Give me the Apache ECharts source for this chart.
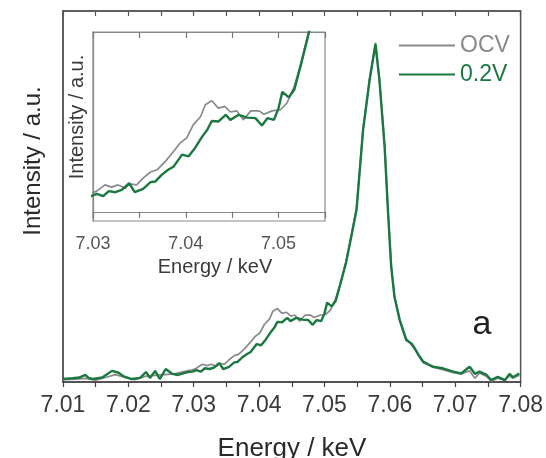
<!DOCTYPE html>
<html><head><meta charset="utf-8">
<script src="https://cdn.jsdelivr.net/npm/echarts@6/dist/echarts.min.js"></script>
<style>html,body{margin:0;padding:0;background:#fff}#c{width:546px;height:458px}</style>
</head><body><div id="c"></div>
<script>
// ---- data (energy in keV, intensity normalised a.u.) ----
const v02Energy = [7.0100,7.0115,7.0125,7.0134,7.0140,7.0146,7.0160,7.0175,7.0185,7.0192,7.0205,7.0218,7.0227,7.0233,7.0241,7.0248,7.0257,7.0267,7.0276,7.0285,7.0291,7.0298,
 7.0304,7.0311,7.0317,7.0324,7.0331,7.0339,7.0345,7.0354,7.0362,7.0367,7.0374,7.0381,7.0387,7.0396,7.0403,7.0410,7.0418,7.0423,7.0428,7.0435,7.0443,7.0448,7.0457,7.0466,7.0475,7.0482,7.0488,7.0495,7.0500,7.0504,7.0511,7.0517,7.0524,7.0533,7.0541,7.0549,7.0559,7.0569,7.0578,7.0584,7.0592,7.0597,7.0602,7.0607,7.0615,7.0625,7.0633,7.0638,7.0645,7.0651,7.0666,7.0681,7.0697,7.0709,7.0722,7.0730,7.0737,7.0748,7.0755,7.0765,7.0776,7.0783,7.0788,7.0798];
const v02Intensity = [0.008,0.010,0.012,0.019,0.010,0.008,0.012,0.030,0.025,0.016,0.008,0.011,0.027,0.011,0.030,0.008,0.035,0.022,0.019,0.024,0.027,0.028,
 0.032,0.028,0.037,0.035,0.039,0.051,0.035,0.041,0.053,0.054,0.066,0.075,0.081,0.102,0.099,0.114,0.135,0.146,0.162,0.161,0.173,0.164,0.173,0.168,0.167,0.154,0.167,0.164,0.185,0.214,0.204,0.218,0.262,0.322,0.392,0.464,0.679,0.814,0.911,0.814,0.634,0.464,0.311,0.230,0.167,0.113,0.104,0.091,0.070,0.055,0.041,0.037,0.028,0.023,0.041,0.022,0.028,0.019,0.005,0.014,0.005,0.022,0.013,0.023];

const ocvEnergy = [7.0100,7.0120,7.0135,7.0150,7.0165,7.0180,7.0195,7.0210,7.0225,7.0240,7.0255,7.0270,7.0285,7.0298,
 7.0304,7.0313,7.0320,7.0327,7.0335,7.0339,7.0347,7.0354,7.0362,7.0369,7.0378,7.0387,7.0394,7.0401,7.0408,7.0416,7.0421,7.0428,7.0435,7.0442,7.0448,7.0455,7.0462,7.0470,7.0479,7.0484,7.0493,7.0502,7.0509,7.0517,7.0524,7.0533,7.0541,7.0549,7.0559,7.0569,7.0578,7.0584,7.0592,7.0597,7.0602,7.0607,7.0615,7.0625,7.0633,7.0638,7.0645,7.0651,7.0666,7.0681,7.0697,7.0709,7.0722,7.0730,7.0737,7.0748,7.0755,7.0765,7.0776,7.0783,7.0788,7.0798];
const ocvIntensity = [0.006,0.008,0.010,0.005,0.012,0.020,0.012,0.006,0.015,0.018,0.020,0.022,0.028,0.033,
 0.037,0.048,0.044,0.048,0.042,0.050,0.048,0.060,0.071,0.075,0.090,0.108,0.123,0.132,0.155,0.170,0.191,0.198,0.185,0.188,0.178,0.180,0.164,0.180,0.180,0.174,0.180,0.182,0.194,0.224,0.265,0.325,0.395,0.470,0.682,0.818,0.915,0.818,0.638,0.468,0.315,0.232,0.170,0.118,0.100,0.088,0.068,0.052,0.040,0.033,0.025,0.022,0.030,0.010,0.024,0.015,0.002,0.010,0.004,0.018,0.010,0.018];

const mainTickLabels = ['7.01','7.02','7.03','7.04','7.05','7.06','7.07','7.08'];
const insetTickLabels = ['7.03','7.04','7.05'];
const seriesNames = ['OCV','0.2V'];

// ---- chart ----
const GREEN = '#1a7840', GRAY = '#8a8a8a';
const FONT = '"Liberation Sans", Arial, sans-serif';
const pairs = (xs, ys) => xs.map((x, i) => [x, ys[i]]);
const labelFmt = list => v => { const s = v.toFixed(2); return (list.includes(s) && Math.abs(v - parseFloat(s)) < 1e-6) ? s : ''; };

const chart = echarts.init(document.getElementById('c'), null, {renderer: 'canvas'});
chart.setOption({
  animation: false,
  backgroundColor: '#fff',
  grid: [
    {left: 63, right: 25, top: 11, bottom: 76, show: true, borderColor: '#555', borderWidth: 1.5, backgroundColor: 'transparent'},
    {left: 93, right: 221, top: 32, bottom: 237, show: true, borderColor: '#8a8a8a', borderWidth: 1.2, backgroundColor: '#fff'}
  ],
  xAxis: [
    {gridIndex: 0, type: 'value', min: 7.01, max: 7.08, interval: 0.005, position: 'bottom',
     axisLine: {lineStyle: {color: '#444', width: 1.5}},
     axisTick: {inside: false, length: 5, lineStyle: {color: '#444', width: 1.2}},
     axisLabel: {formatter: labelFmt(mainTickLabels), fontSize: 23, color: '#3a3a3a', fontFamily: FONT, margin: 12, showMinLabel: true, showMaxLabel: true},
     splitLine: {show: false}},
    {gridIndex: 0, type: 'value', min: 7.01, max: 7.08, interval: 0.005, position: 'top',
     axisLine: {lineStyle: {color: '#555', width: 1.5}},
     axisTick: {inside: true, length: 5, lineStyle: {color: '#555', width: 1.2}},
     axisLabel: {show: false}, splitLine: {show: false}},
    {gridIndex: 1, type: 'value', min: 7.03, max: 7.055, interval: 0.005, position: 'bottom',
     axisLine: {lineStyle: {color: '#8a8a8a', width: 1.2}},
     axisTick: {inside: false, length: 6, lineStyle: {color: '#777', width: 1.2}},
     axisLabel: {formatter: labelFmt(insetTickLabels), fontSize: 18, color: '#555', fontFamily: FONT, margin: 14, showMinLabel: true, showMaxLabel: true},
     splitLine: {show: false}},
    {gridIndex: 1, type: 'value', min: 7.03, max: 7.055, interval: 0.005, position: 'top',
     axisLine: {lineStyle: {color: '#8a8a8a', width: 1.2}},
     axisTick: {inside: true, length: 6, lineStyle: {color: '#777', width: 1.2}},
     axisLabel: {show: false}, splitLine: {show: false}}
  ],
  yAxis: [
    {gridIndex: 0, type: 'value', min: 0, max: 1, axisLine: {show: true, lineStyle: {color: '#555', width: 1.5}},
     axisTick: {show: false}, axisLabel: {show: false}, splitLine: {show: false}},
    {gridIndex: 1, type: 'value', min: -0.0163, max: 0.3206, axisLine: {show: true, lineStyle: {color: '#8a8a8a', width: 1.2}},
     axisTick: {show: false}, axisLabel: {show: false}, splitLine: {show: false}}
  ],
  legend: {
    orient: 'vertical', left: 394, top: 29, itemGap: 6, itemWidth: 56, itemHeight: 2, icon: 'rect',
    textStyle: {fontSize: 23, fontFamily: FONT, lineHeight: 23, padding: [0, 0, 0, 0]},
    data: [
      {name: seriesNames[0], textStyle: {color: '#8a8a8a'}, itemStyle: {color: GRAY}},
      {name: seriesNames[1], textStyle: {color: GREEN}, itemStyle: {color: GREEN}}
    ]
  },
  series: [
    {name: seriesNames[0], type: 'line', xAxisIndex: 0, yAxisIndex: 0, data: pairs(ocvEnergy, ocvIntensity),
     showSymbol: false, symbol: 'none', lineStyle: {color: GRAY, width: 1.7}, itemStyle: {color: GRAY}, z: 2},
    {name: seriesNames[1], type: 'line', xAxisIndex: 0, yAxisIndex: 0, data: pairs(v02Energy, v02Intensity),
     showSymbol: false, symbol: 'none', lineStyle: {color: GREEN, width: 2.4}, itemStyle: {color: GREEN}, z: 3},
    {name: seriesNames[0], type: 'line', xAxisIndex: 2, yAxisIndex: 1, data: pairs(ocvEnergy, ocvIntensity), clip: true,
     showSymbol: false, symbol: 'none', lineStyle: {color: GRAY, width: 1.7}, itemStyle: {color: GRAY}, z: 4},
    {name: seriesNames[1], type: 'line', xAxisIndex: 2, yAxisIndex: 1, data: pairs(v02Energy, v02Intensity), clip: true,
     showSymbol: false, symbol: 'none', lineStyle: {color: GREEN, width: 2.4}, itemStyle: {color: GREEN}, z: 5}
  ],
  graphic: [
    {type: 'text', x: 292, y: 449, z: 10, style: {text: 'Energy / keV', font: '26px ' + FONT, fill: '#2a2a2a', textAlign: 'center', textVerticalAlign: 'middle'}},
    {type: 'text', x: 33, y: 161, rotation: Math.PI / 2, z: 10, style: {text: 'Intensity / a.u.', font: '24px ' + FONT, fill: '#2a2a2a', textAlign: 'center', textVerticalAlign: 'middle'}},
    {type: 'text', x: 215, y: 267, z: 10, style: {text: 'Energy / keV', font: '20px ' + FONT, fill: '#3a3a3a', textAlign: 'center', textVerticalAlign: 'middle'}},
    {type: 'text', x: 77, y: 117, rotation: Math.PI / 2, z: 10, style: {text: 'Intensity / a.u.', font: '20px ' + FONT, fill: '#3a3a3a', textAlign: 'center', textVerticalAlign: 'middle'}},
    {type: 'text', x: 482, y: 325, z: 10, style: {text: 'a', font: '34px ' + FONT, fill: '#222', textAlign: 'center', textVerticalAlign: 'middle'}}
  ]
});
</script>
</body></html>
